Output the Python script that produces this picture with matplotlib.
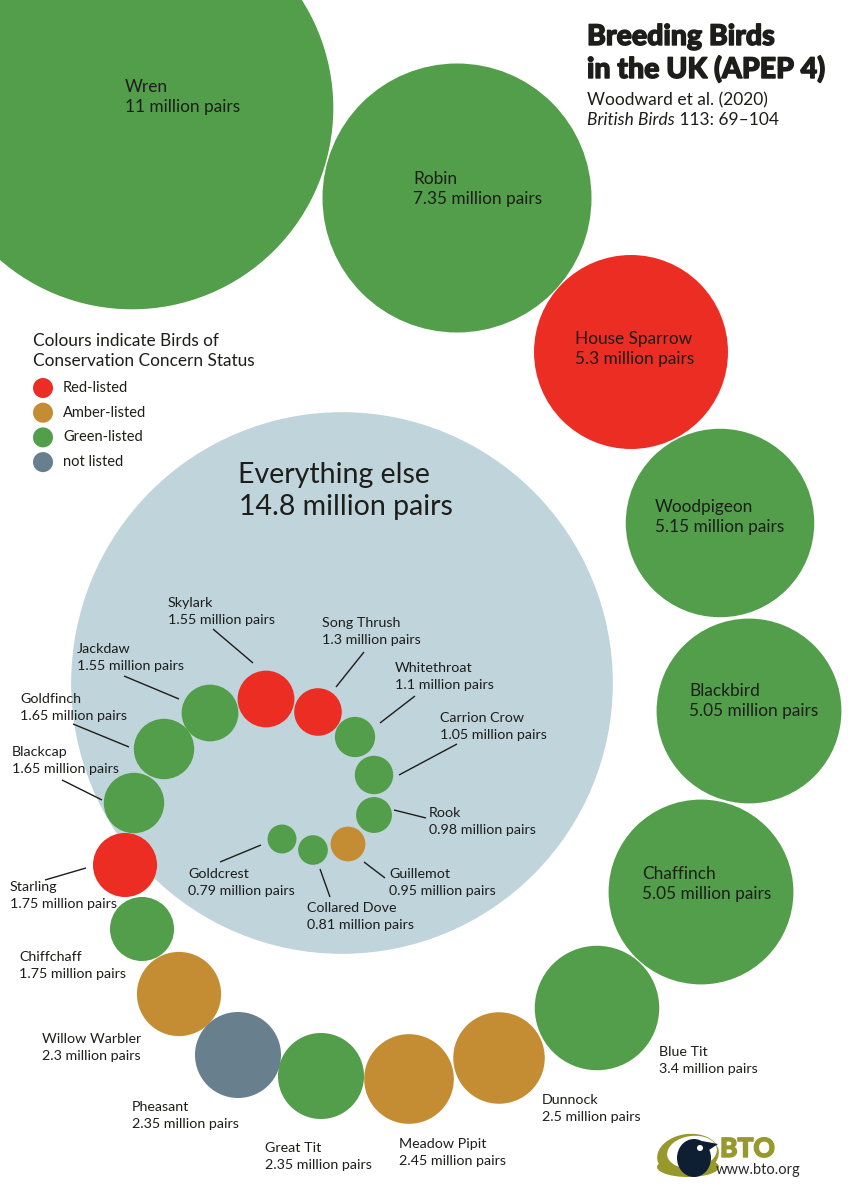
import matplotlib
matplotlib.use("Agg")
import matplotlib.pyplot as plt
import matplotlib.patheffects as pe
from matplotlib.patches import Circle, Ellipse, Polygon

plt.rcParams['font.family'] = ['Lato', 'DejaVu Sans']

# --- data ---
birds = ["Wren", "Robin", "House Sparrow", "Woodpigeon", "Blackbird", "Chaffinch",
         "Blue Tit", "Dunnock", "Meadow Pipit", "Great Tit", "Pheasant",
         "Willow Warbler", "Chiffchaff", "Starling", "Blackcap", "Goldfinch",
         "Jackdaw", "Skylark", "Song Thrush", "Whitethroat", "Carrion Crow",
         "Rook", "Guillemot", "Collared Dove", "Goldcrest"]
pairs = [11, 7.35, 5.3, 5.15, 5.05, 5.05, 3.4, 2.5, 2.45, 2.35, 2.35,
         2.3, 1.75, 1.75, 1.65, 1.65, 1.55, 1.55, 1.3, 1.1, 1.05,
         0.98, 0.95, 0.81, 0.79]
status = ["green", "green", "red", "green", "green", "green",
          "green", "amber", "amber", "green", "none",
          "amber", "green", "red", "green", "green",
          "green", "red", "red", "green", "green",
          "green", "amber", "green", "green"]
other_pairs = 14.8

status_names = ["red", "amber", "green", "none"]
status_labels = ["Red-listed", "Amber-listed", "Green-listed", "not listed"]

# --- layout (pixel coords, y down) ---
centres = [(132, 108), (457, 198), (631, 352), (720, 523), (749, 711), (701, 892),
           (597, 1008), (499, 1058), (409, 1079), (321, 1076), (238, 1055),
           (179, 994), (142, 929), (125, 865), (134, 803), (164, 749),
           (210, 713), (266, 699), (318, 712), (355, 737), (374, 775),
           (374, 815), (348, 844), (313, 850), (282, 839)]
other_centre = (342, 683)
# label anchor: x, baseline of name line
label_pos = [(125, 92), (413, 184), (575, 344), (655, 512), (689, 696), (642, 879),
             (659, 1056), (542, 1104), (399, 1148), (265, 1152), (132, 1111),
             (42, 1043), (19, 961), (10, 891), (12, 756), (20, 703),
             (77, 653), (168, 607), (322, 627), (395, 672), (440, 722),
             (429, 817), (389, 878), (307, 912), (188, 878)]
big_labels = 6   # first six are written inside their circles
leaders = {"Skylark": ((213, 629), (253, 663)),
           "Jackdaw": ((124, 676), (179, 699)),
           "Goldfinch": ((73, 724), (129, 747)),
           "Blackcap": ((62, 780), (102, 800)),
           "Starling": ((45, 880), (86, 868)),
           "Song Thrush": ((364, 652), (336, 687)),
           "Whitethroat": ((415, 696), (380, 723)),
           "Carrion Crow": ((457, 744), (399, 775)),
           "Rook": ((394, 810), (426, 818)),
           "Guillemot": ((364, 862), (385, 878)),
           "Collared Dove": ((320, 869), (330, 897)),
           "Goldcrest": ((261, 845), (220, 862))}

colours = {"red": "#ec2d24", "amber": "#c48c33", "green": "#529e4a", "none": "#687f8d"}
other_colour = "#c0d4db"
ink = "#1d1d1b"
scale = 18.3   # px of radius per million pairs

fig = plt.figure(figsize=(8.48, 12), dpi=100)
ax = fig.add_axes([0, 0, 1, 1])
ax.set_xlim(0, 848)
ax.set_ylim(1200, 0)
ax.axis("off")

ax.add_patch(Circle(other_centre, other_pairs * scale, color=other_colour, lw=0))
ax.text(238, 483, "Everything else", fontsize=20.5, color=ink)
ax.text(239, 515, f"{other_pairs:g} million pairs", fontsize=20.5, color=ink)

for name, v, st, c in zip(birds, pairs, status, centres):
    ax.add_patch(Circle(c, v * scale, color=colours[st], lw=0))

for i, (name, v) in enumerate(zip(birds, pairs)):
    x, y = label_pos[i]
    if i < big_labels:
        fs, lh = 12.4, 20
    else:
        fs, lh = 10.3, 17
    ax.text(x, y, name, fontsize=fs, color=ink)
    ax.text(x, y + lh, f"{v:g} million pairs", fontsize=fs, color=ink)
    if name in leaders:
        (x0, y0), (x1, y1) = leaders[name]
        ax.plot([x0, x1], [y0, y1], color=ink, lw=1.0, solid_capstyle="butt")

# title
heavy = [pe.withStroke(linewidth=1.0, foreground=ink)]
ax.text(587, 45, "Breeding Birds", fontsize=20.5, fontweight="black", color=ink,
        path_effects=heavy)
ax.text(587, 78, "in the UK (APEP 4)", fontsize=20.5, fontweight="black", color=ink,
        path_effects=heavy)
ax.text(587, 105, "Woodward et al. (2020)", fontsize=12.5, color=ink)
t = ax.text(587, 125, "British Birds", fontsize=12.5, color=ink, style="italic")
ax.annotate(" 113: 69–104", xy=(1, 0), xycoords=t, va="bottom",
            fontsize=12.5, color=ink)

# legend
ax.text(33, 346, "Colours indicate Birds of", fontsize=12.4, color=ink)
ax.text(33, 366, "Conservation Concern Status", fontsize=12.4, color=ink)
for j, (st, lab) in enumerate(zip(status_names, status_labels)):
    yy = 388 + j * 24.7
    ax.add_patch(Circle((43, yy), 10, color=colours[st], lw=0))
    ax.text(63, yy, lab, fontsize=10.5, color=ink, va="center")

# BTO logo
olive = "#97992c"
navy = "#0e1f33"
ax.add_patch(Ellipse((688, 1155), 62, 42, angle=-8, color=olive, lw=0))
ax.add_patch(Ellipse((692, 1152), 50, 32, angle=-8, color="white", lw=0))
ax.add_patch(Ellipse((694, 1158), 34, 38, color=navy, lw=0))
ax.add_patch(Polygon([(702, 1141), (718, 1144), (706, 1152)], closed=True, color=navy, lw=0))
ax.add_patch(Circle((700, 1148), 3, color="white", lw=0))
ax.add_patch(Ellipse((688, 1167), 62, 20, color=olive, lw=0, zorder=0.5))
ax.text(720, 1157, "BTO", fontsize=19, fontweight="black", color=olive,
        path_effects=[pe.withStroke(linewidth=1.0, foreground=olive)])
ax.text(716, 1174, "www.bto.org", fontsize=10.5, color="#2b2b2b")

fig.savefig("out.png", dpi=100)
